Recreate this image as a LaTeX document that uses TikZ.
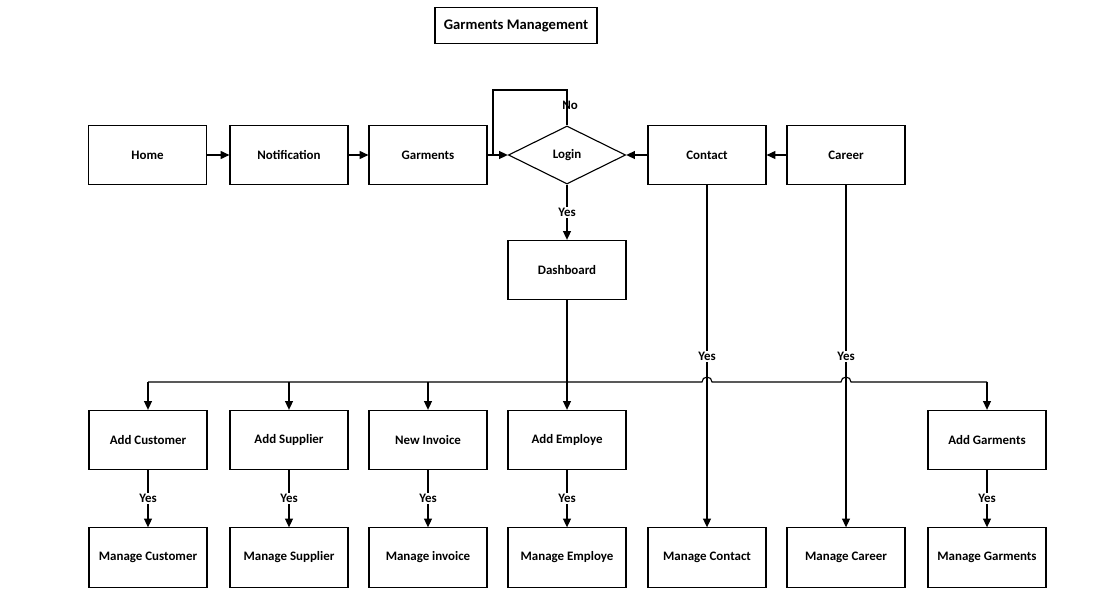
\documentclass[tikz,border=0pt]{standalone}
\usepackage{fontspec}
\setmainfont{Carlito}
\usepackage{tikz}
\usetikzlibrary{arrows.meta,positioning,shapes.geometric,calc}

\begin{document}
\begin{tikzpicture}[x=0.025cm, y=-0.025cm,
    box/.style={draw, line width=0.8pt, minimum width=2.95cm, minimum height=1.48cm, inner sep=1pt, font=\bfseries\fontsize{9.2}{11}\selectfont},
    decision/.style={draw, diamond, aspect=2, line width=0.8pt, minimum width=2.93cm, minimum height=1.45cm, inner sep=0pt, font=\bfseries\fontsize{9.2}{11}\selectfont},
    yes/.style={fill=white, inner sep=1pt, font=\bfseries\fontsize{9.2}{11}\selectfont},
    arrow/.style={line width=0.8pt, -{Triangle[length=2.2mm,width=2mm]}},
    line/.style={line width=0.8pt}]
    \useasboundingbox (0,0) rectangle (1104,605);

    % Title
    \node[draw, line width=0.8pt, minimum width=4.05cm, minimum height=0.88cm, font=\bfseries\fontsize{10.4}{12}\selectfont] (title) at (516,25.5) {Garments Management};

    % Top row
    \node[box] (home) at (147.5,155) {Home};
    \node[box] (notif) at (289,155) {Notification};
    \node[box] (garments) at (428,155) {Garments};
    \node[decision] (login) at (567,155) {Login};
    \node[box] (contact) at (707,155) {Contact};
    \node[box] (career) at (846,155) {Career};
    \node[box] (dash) at (567,270) {Dashboard};

    \draw[arrow] (home) -- (notif);
    \draw[arrow] (notif) -- (garments);
    \draw[arrow] (garments) -- (login);
    \draw[arrow] (career) -- (contact);
    \draw[arrow] (contact) -- (login);

    % Login loop
    \coordinate (loopstart) at (493,155);
    \coordinate (looptop) at (567,90);
    \draw[line] (loopstart) |- (looptop) -- (login.north);
    \node[font=\bfseries\fontsize{9.2}{11}\selectfont] (no) at (570,105) {No};
    \draw[arrow] (login.south) -- node[yes] (yeslogin) {Yes} (dash.north);

    % Second row
    \node[box] (addcust) at (148,440) {Add Customer};
    \node[box] (addsup) at (289,440) {Add Supplier};
    \node[box] (newinv) at (428,440) {New Invoice};
    \node[box] (addemp) at (567,440) {Add Employe};
    \node[box] (addgarm) at (987,440) {Add Garments};

    % Third row
    \node[box] (mcust) at (148,557.5) {Manage Customer};
    \node[box] (msup) at (289,557.5) {Manage Supplier};
    \node[box] (minv) at (428,557.5) {Manage invoice};
    \node[box] (memp) at (567,557.5) {Manage Employe};
    \node[box] (mcontact) at (707,557.5) {Manage Contact};
    \node[box] (mcareer) at (846,557.5) {Manage Career};
    \node[box] (mgarm) at (987,557.5) {Manage Garments};

    % Bus with jumps over Contact and Career lines
    \coordinate (busL) at (148,382);
    \coordinate (busR) at (987,382);
    \draw[line] (busL) -- ($(busL -| contact)+(-5,0)$) arc[start angle=180, end angle=0, radius=0.125cm]
        -- ($(busL -| career)+(-5,0)$) arc[start angle=180, end angle=0, radius=0.125cm] -- (busR);
    \draw[arrow] (busL) -- (addcust.north);
    \draw[arrow] (busL -| addsup) -- (addsup.north);
    \draw[arrow] (busL -| newinv) -- (newinv.north);
    \draw[arrow] (busR) -- (addgarm.north);
    \draw[arrow] (dash) -- (addemp);

    % Contact and Career branches
    \draw[arrow] (contact) -- node[yes] (yescontact) {Yes} (mcontact);
    \draw[arrow] (career) -- node[yes] (yescareer) {Yes} (mcareer);

    % Add -> Manage
    \draw[arrow] (addcust) -- node[yes] (yes1) {Yes} (mcust);
    \draw[arrow] (addsup) -- node[yes] (yes2) {Yes} (msup);
    \draw[arrow] (newinv) -- node[yes] (yes3) {Yes} (minv);
    \draw[arrow] (addemp) -- node[yes] (yes4) {Yes} (memp);
    \draw[arrow] (addgarm) -- node[yes] (yes5) {Yes} (mgarm);
\end{tikzpicture}
\end{document}
